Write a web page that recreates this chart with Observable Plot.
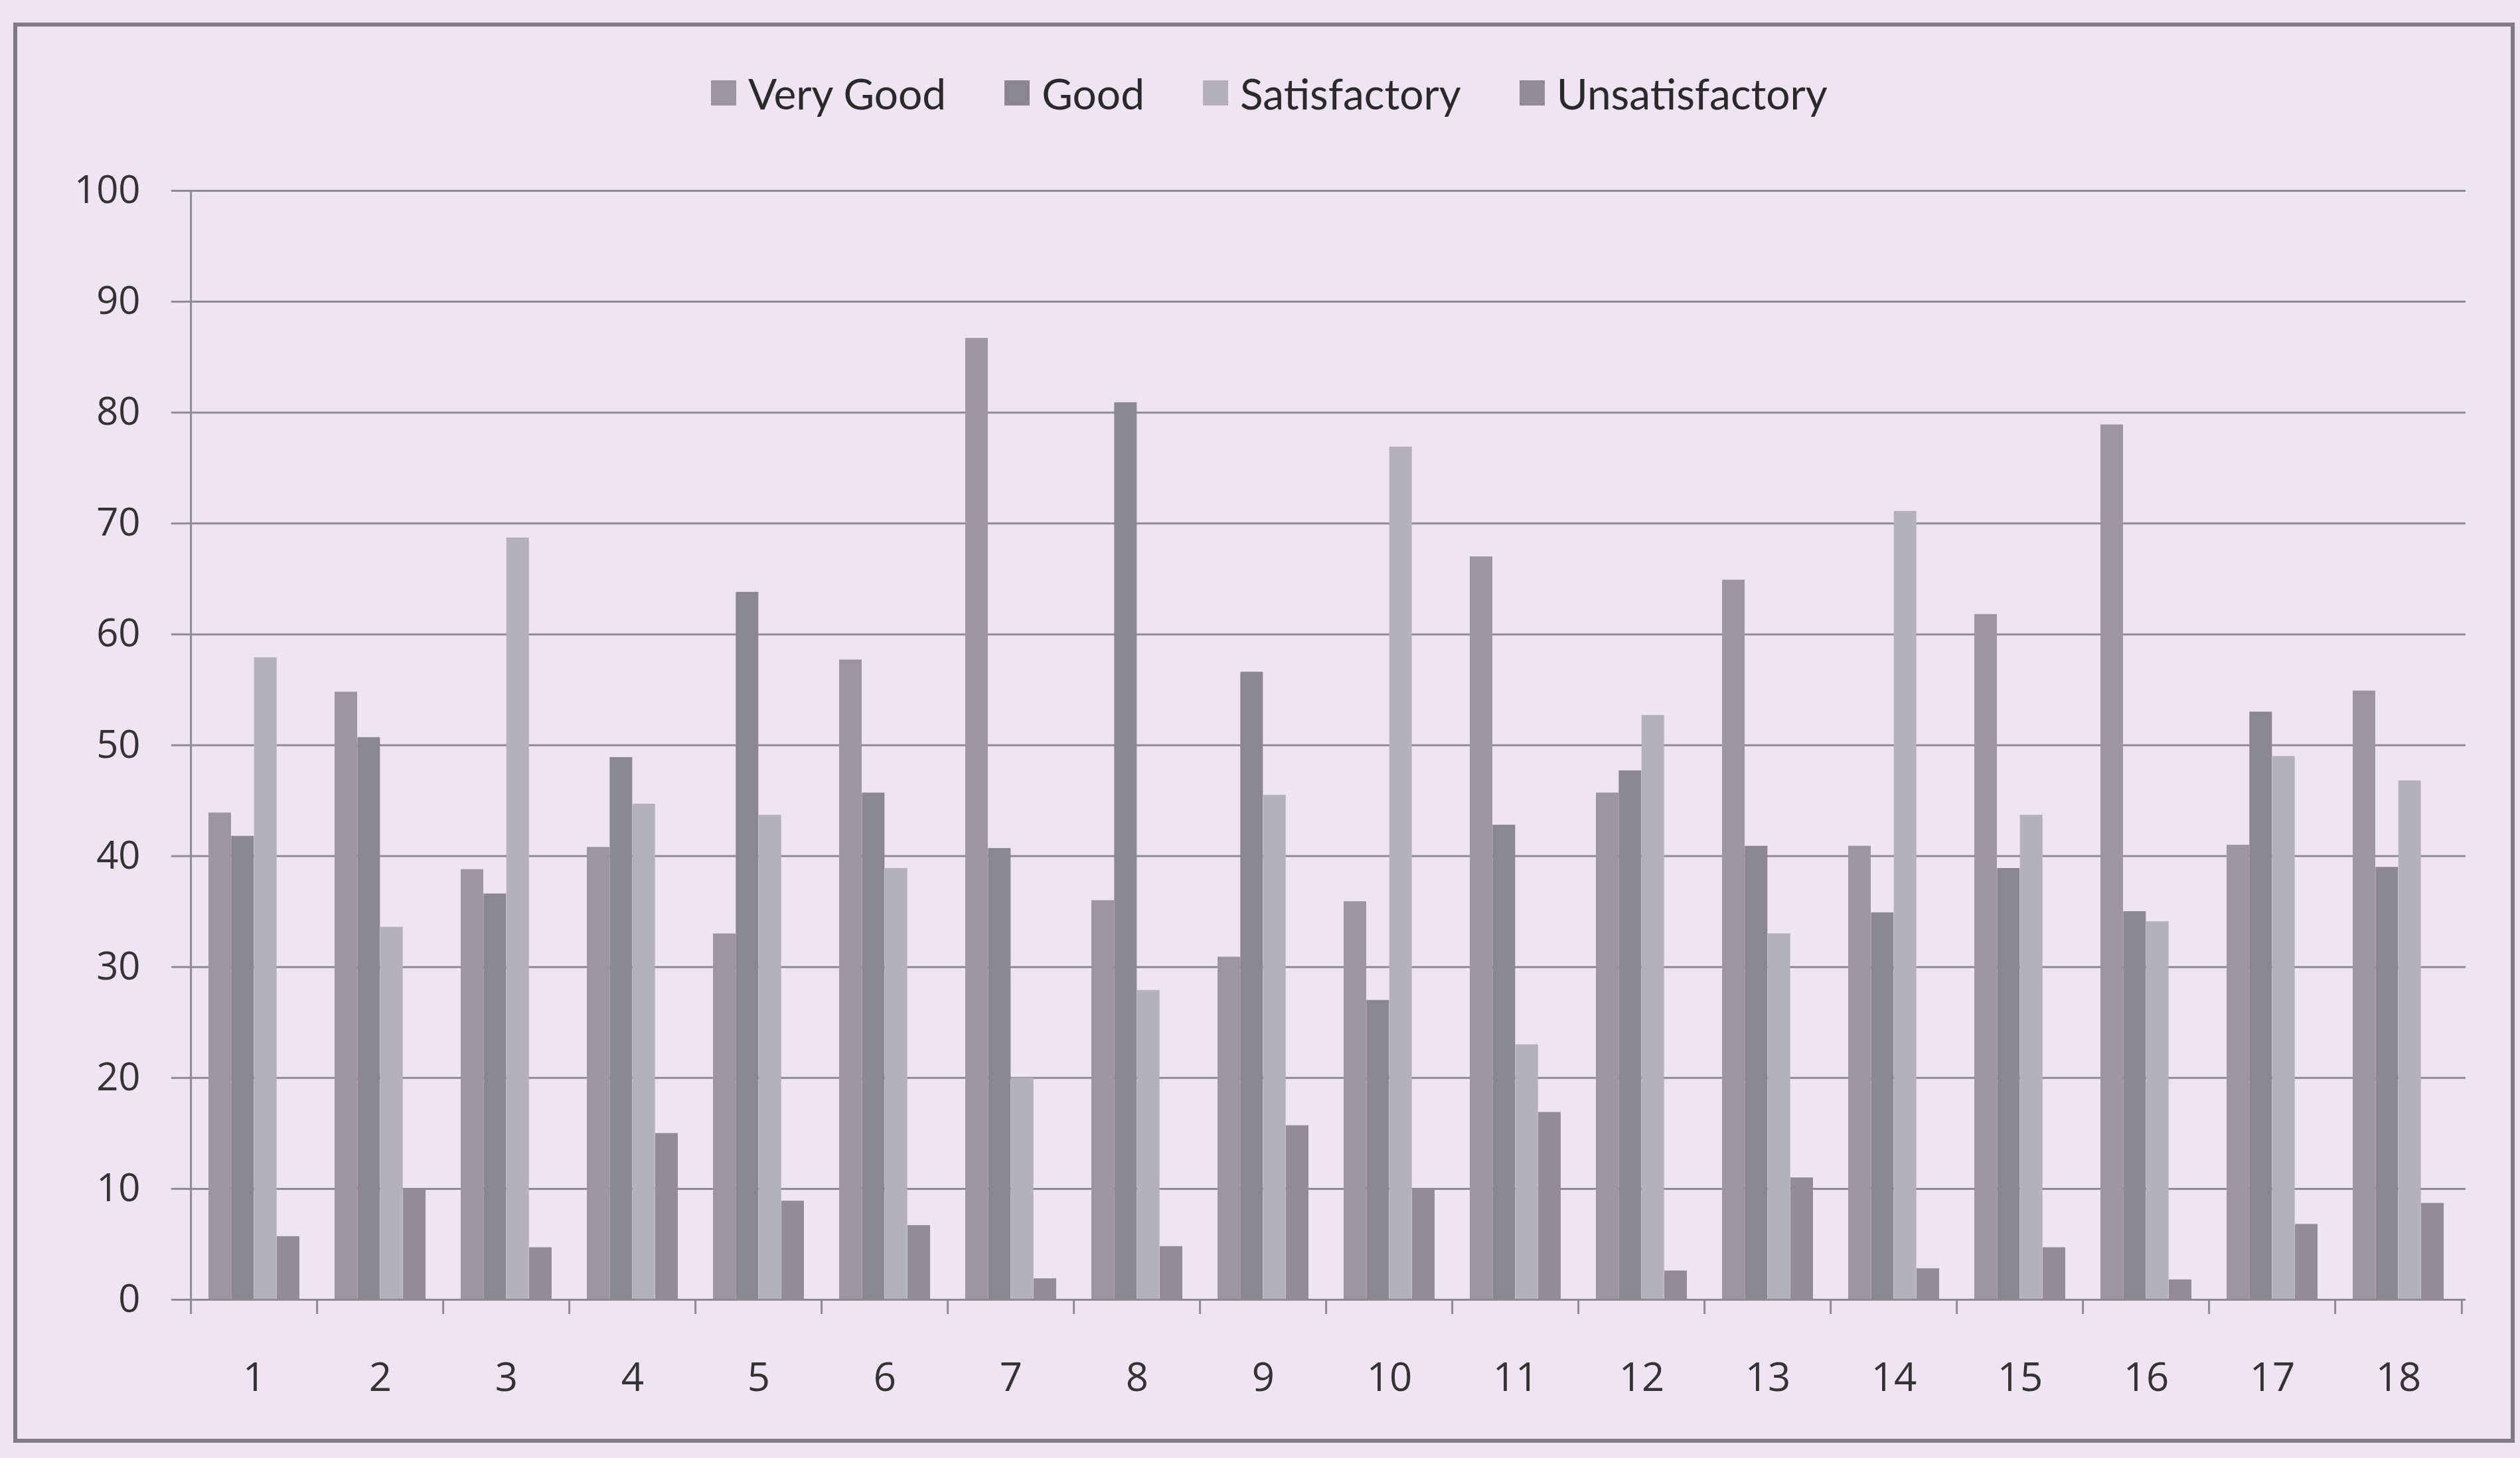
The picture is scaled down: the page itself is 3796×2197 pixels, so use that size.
<!DOCTYPE html>
<html>
<head>
<meta charset="utf-8">
<script src="https://cdn.jsdelivr.net/npm/d3@7"></script>
<script src="https://cdn.jsdelivr.net/npm/@observablehq/plot@0.6"></script>
<style>
  html, body { margin: 0; padding: 0; background: #efe4f3; }
  #wrap { position: relative; width: 3796px; height: 2197px; background: #efe4f3; overflow: hidden; }
  #border { position: absolute; left: 20px; top: 34px; width: 3768px; height: 2140px; border: 6px solid #7f7b84; box-sizing: border-box; }
  #legend { position: absolute; left: 1071px; top: 100px; height: 80px; display: flex; align-items: center; font-family: Lato, "Open Sans", sans-serif; font-size: 64px; color: #2a2a2a; }
  .item { display: flex; align-items: center; margin-right: 88px; }
  .sw { width: 38px; height: 38px; margin-right: 18px; }
  #chart { position: absolute; left: 0; top: 200px; }
</style>
</head>
<body>
<div id="wrap">
  <div id="border"></div>
  <div id="legend"></div>
  <div id="chart"></div>
</div>
<script>
// ---- data ----
const groups = ["1","2","3","4","5","6","7","8","9","10","11","12","13","14","15","16","17","18"];
const seriesNames = ["Very Good", "Good", "Satisfactory", "Unsatisfactory"];
const veryGood       = [43.9, 54.8, 38.8, 40.8, 33.0, 57.7, 86.7, 36.0, 30.9, 35.9, 67.0, 45.7, 64.9, 40.9, 61.8, 78.9, 41.0, 54.9];
const good           = [41.8, 50.7, 36.6, 48.9, 63.8, 45.7, 40.7, 80.9, 56.6, 27.0, 42.8, 47.7, 40.9, 34.9, 38.9, 35.0, 53.0, 39.0];
const satisfactory   = [57.9, 33.6, 68.7, 44.7, 43.7, 38.9, 20.0, 27.9, 45.5, 76.9, 23.0, 52.7, 33.0, 71.1, 43.7, 34.1, 49.0, 46.8];
const unsatisfactory = [5.7, 9.9, 4.7, 15.0, 8.9, 6.7, 1.9, 4.8, 15.7, 10.0, 16.9, 2.6, 11.0, 2.8, 4.7, 1.8, 6.8, 8.7];
const yTicks = [0, 10, 20, 30, 40, 50, 60, 70, 80, 90, 100];

// ---- styling ----
const seriesColors = ["#9b96a2", "#8b8791", "#b4b0be", "#928c98"];
const gridColor = "#8e8c92";

const seriesValues = [veryGood, good, satisfactory, unsatisfactory];
const rows = groups.map((g, i) => {
  const r = {group: g};
  seriesNames.forEach((s, k) => r[s] = seriesValues[k][i]);
  return r;
});

// legend
const legend = document.getElementById("legend");
seriesNames.forEach((s, k) => {
  const it = document.createElement("div");
  it.className = "item";
  const sw = document.createElement("div");
  sw.className = "sw";
  sw.style.background = seriesColors[k];
  const t = document.createElement("span");
  t.textContent = s;
  it.appendChild(sw); it.appendChild(t);
  legend.appendChild(it);
});

// layout
const W = 3796, H = 1997, mL = 280, mR = 82, mT = 87, mB = 239;
const pIn = 0.28, pOut = 0.14;
const step = (W - mL - mR) / (groups.length - pIn + 2 * pOut);
const band = step * (1 - pIn);
const bw = band / seriesNames.length;

const bars = seriesNames.map((s, k) =>
  Plot.barY(rows, {
    x: "group", y: s, fill: seriesColors[k],
    insetLeft: k * bw, insetRight: (seriesNames.length - 1 - k) * bw
  })
);

const chart = Plot.plot({
  width: W, height: H,
  marginLeft: mL, marginRight: mR, marginTop: mT, marginBottom: mB,
  style: {background: "transparent", overflow: "visible", fontFamily: "Open Sans"},
  x: {type: "band", domain: groups, paddingInner: pIn, paddingOuter: pOut, label: null},
  y: {domain: [0, 100], label: null},
  marks: [
    Plot.gridY({ticks: yTicks, stroke: gridColor, strokeOpacity: 1, strokeWidth: 3}),
    ...bars,
    Plot.ruleY([0], {stroke: gridColor, strokeWidth: 3}),
    Plot.ruleX([groups[0]], {x: d => d, dx: -step / 2, stroke: gridColor, strokeWidth: 3}),
    Plot.ruleX(groups, {x: d => d, y1: 0, y2: 0, insetBottom: -22, dx: -step / 2, stroke: gridColor, strokeWidth: 3}),
    Plot.ruleX([groups[groups.length - 1]], {x: d => d, y1: 0, y2: 0, insetBottom: -22, dx: step / 2, stroke: gridColor, strokeWidth: 3}),
    Plot.axisY({ticks: yTicks, tickSize: 22, tickPadding: 47, fontSize: 58, fontFamily: "Open Sans", stroke: gridColor, strokeWidth: 3, fill: "#333", label: null}),
    Plot.axisX({tickSize: 0, tickPadding: 95, fontSize: 60, fontFamily: "Open Sans", fill: "#333", label: null})
  ]
});
document.getElementById("chart").appendChild(chart);
</script>
</body>
</html>
